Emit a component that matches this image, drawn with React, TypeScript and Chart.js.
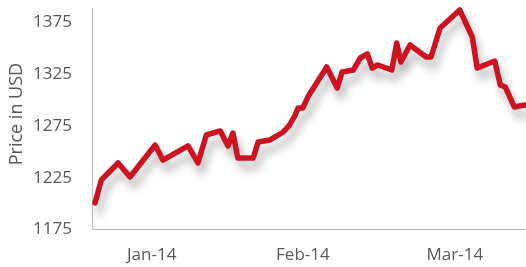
import React, { useEffect, useRef } from "react";
import { Chart, registerables } from "chart.js";

Chart.register(...registerables);

// trading-day index (0 = 31 Dec 2013) of each turning point
const days = [0, 0.9, 3.3, 5.0, 8.6, 9.7, 13.3, 14.7, 15.9, 17.9, 19.0, 19.7, 20.4, 22.6, 23.3, 25.0, 26.9, 27.7, 28.6, 29.0, 29.7, 30.4, 33.1, 34.6, 35.3, 36.9, 37.9, 38.9, 39.6, 40.4, 42.4, 43.1, 43.7, 45.0, 47.3, 48.0, 49.3, 52.1, 53.9, 54.6, 57.1, 57.9, 58.6, 59.9, 61.4];
const prices = [1200.6, 1222.8, 1239.3, 1225.7, 1256.6, 1242.1, 1255.7, 1239.3, 1266.3, 1270.2, 1255.7, 1268.2, 1244.1, 1244.1, 1259.5, 1261.5, 1269.2, 1275.0, 1285.6, 1292.4, 1292.4, 1303.0, 1332.0, 1311.7, 1327.2, 1329.1, 1340.7, 1344.6, 1331.0, 1333.9, 1329.1, 1355.2, 1336.8, 1353.3, 1341.7, 1341.7, 1369.7, 1387.1, 1361.0, 1331.0, 1337.8, 1314.6, 1312.7, 1293.4, 1295.3];

const yTicks = [1175, 1225, 1275, 1325, 1375];
const xTickPos = [8.1, 29.7, 51.4];
const xTickLabels = ["Jan-14", "Feb-14", "Mar-14"];

const shadowPlugin = {
  id: "lineShadow",
  beforeDatasetsDraw(chart: any) {
    const ctx = chart.ctx;
    ctx.save();
    ctx.shadowColor = "rgba(0,0,0,0.28)";
    ctx.shadowBlur = 8;
    ctx.shadowOffsetX = 4;
    ctx.shadowOffsetY = 9;
  },
  afterDatasetsDraw(chart: any) {
    chart.ctx.restore();
  },
};

export default function App() {
  const ref = useRef<HTMLCanvasElement>(null);
  useEffect(() => {
    document.body.style.margin = "0";
    const font = { family: "'Open Sans', sans-serif", size: 17 };
    const chart = new Chart(ref.current!, {
      type: "line",
      data: {
        datasets: [
          {
            data: days.map((d, i) => ({ x: d, y: prices[i] })),
            borderColor: "#CF1220",
            borderWidth: 5.5,
            pointRadius: 0,
            tension: 0,
            fill: false,
            clip: 10,
            borderJoinStyle: "round",
            borderCapStyle: "round",
          },
        ],
      },
      options: {
        animation: false,
        responsive: false,
        layout: { padding: { top: 8, right: 0, left: 0, bottom: 0 } },
        plugins: { legend: { display: false }, tooltip: { enabled: false } },
        scales: {
          x: {
            type: "linear",
            min: -0.43,
            max: 61.57,
            afterBuildTicks: (axis: any) => {
              axis.ticks = xTickPos.map((v) => ({ value: v }));
            },
            afterFit: (axis: any) => {
              axis.height = 37.5;
              axis.paddingLeft = 0;
              axis.paddingRight = 0;
            },
            ticks: {
              autoSkip: false,
              maxRotation: 0,
              padding: 15,
              color: "#595959",
              font,
              callback: (v: any) => {
                const i = xTickPos.indexOf(Number(v));
                return i >= 0 ? xTickLabels[i] : "";
              },
            },
            grid: { display: false, drawTicks: false },
            border: { display: true, color: "#BFBFBF", width: 1 },
          },
          y: {
            min: 1175,
            max: 1389,
            afterBuildTicks: (axis: any) => {
              axis.ticks = yTicks.map((v) => ({ value: v }));
            },
            afterFit: (axis: any) => {
              axis.width = 92;
              axis.paddingTop = 0;
              axis.paddingBottom = 0;
            },
            ticks: {
              padding: 20,
              color: "#595959",
              font,
              callback: (v: any) => String(v),
            },
            grid: { display: false, drawTicks: false },
            border: { display: true, color: "#BFBFBF", width: 1 },
            title: {
              display: true,
              text: "  Price in USD",
              color: "#595959",
              font: { family: "'Open Sans', sans-serif", size: 18 },
              padding: { top: 6, bottom: 0 },
            },
          },
        },
      },
      plugins: [shadowPlugin],
    } as any);
    return () => chart.destroy();
  }, []);
  return (
    <div style={{ width: 526, height: 267 }}>
      <canvas ref={ref} width={526} height={267} />
    </div>
  );
}
